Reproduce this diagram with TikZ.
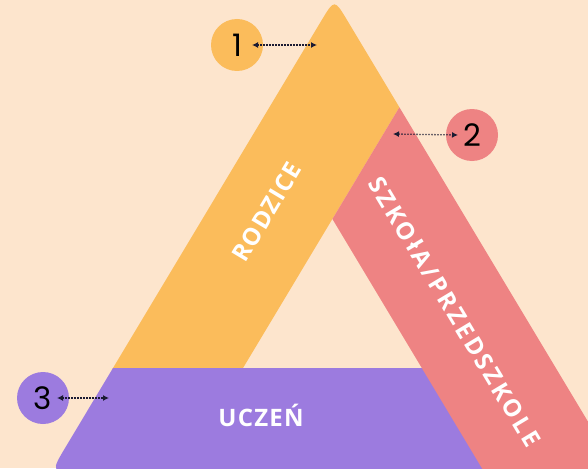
\documentclass[tikz,border=0pt]{standalone}
\usepackage{fontspec}
\setmainfont{Open Sans}
\newfontfamily\bandfont{Open Sans}[LetterSpace=5]
\newfontfamily\bandwide{Open Sans}[LetterSpace=12]
\newfontfamily\numfont{Poppins}
\usetikzlibrary{arrows.meta}
\definecolor{bgc}{HTML}{FDE5CD}
\definecolor{orangec}{HTML}{FBBC5B}
\definecolor{pinkc}{HTML}{EE8383}
\definecolor{purplec}{HTML}{9C7BDF}
\definecolor{arrowc}{HTML}{1B1B33}
\begin{document}
\begin{tikzpicture}[x=1pt,y=-1pt,
  bandtext/.style={text=white,font=\bandfont\bfseries\fontsize{24}{24}\selectfont,inner sep=0pt},
  bandlong/.style={bandtext,font=\bandwide\bfseries\fontsize{24}{24}\selectfont},
  badge/.style={circle,minimum size=52pt,inner sep=0pt,font=\numfont\fontsize{31}{31}\selectfont,text=black},
  link/.style={draw=arrowc,line width=1.3pt,dash pattern=on 1.3pt off 1.7pt,{Latex[length=6pt,width=6pt]}-{Latex[length=6pt,width=6pt]}}]
\useasboundingbox (0,0) rectangle (588,468);
\fill[bgc] (0,0) rectangle (588,468);
% orange band
\fill[orangec] (111.8,370) -- (321.55,20.4) .. controls (334.4,-1) .. (347.25,20.4) -- (399.4,107.3) -- (241.8,370) -- cycle;
% purple band
\fill[purplec] (113,368) -- (66.1,446.3) .. controls (50.6,472) .. (80.6,472) -- (520,472) -- (520,368) -- cycle;
% pink band
\fill[pinkc] (399.4,107.3) -- (623,480) -- (489,480) -- (332.4,219) -- cycle;
% texts
\node[bandtext,rotate=59] (t-rodzice) at (267,212) {RODZICE};
\node[bandlong,rotate=-59] (t-szkola) at (455,312) {SZKOłA/PRZEDSZKOLE};
\node[bandtext] (t-uczen) at (261,415) {UCZEŃ};
% badges
\node[badge,fill=orangec] (c1) at (237,45) {1};
\node[badge,fill=pinkc] (c2) at (472,135) {2};
\node[badge,fill=purplec] (c3) at (43,398) {3};
\coordinate (e1) at (317,45);
\coordinate (e2) at (393,134);
\coordinate (e3) at (109,398);
\draw[link] ([xshift=15pt]c1.center) -- (e1);
\draw[link] (e2) -- ([xshift=-14pt]c2.center);
\draw[link] ([xshift=14pt]c3.center) -- (e3);
\end{tikzpicture}
\end{document}
